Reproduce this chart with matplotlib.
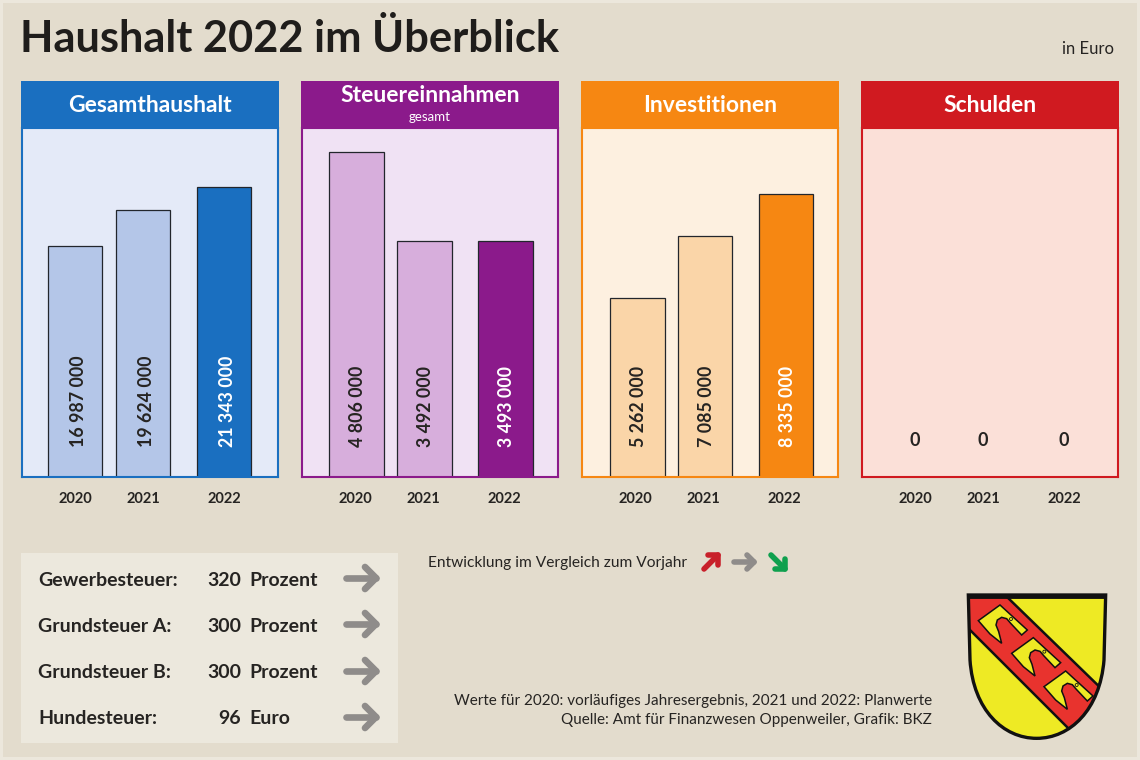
import matplotlib
matplotlib.use('Agg')
import matplotlib.pyplot as plt
from matplotlib.patches import Rectangle, PathPatch, Polygon, Circle
from matplotlib.path import Path

plt.rcParams['font.family'] = ['Lato', 'DejaVu Sans']

years = ['2020', '2021', '2022']
gesamthaushalt = [16987000, 19624000, 21343000]
steuereinnahmen = [4806000, 3492000, 3493000]
investitionen = [5262000, 7085000, 8335000]
schulden = [0, 0, 0]

panel_titles = ['Gesamthaushalt', 'Steuereinnahmen', 'Investitionen', 'Schulden']
tax_names = ['Gewerbesteuer:', 'Grundsteuer A:', 'Grundsteuer B:', 'Hundesteuer:']
tax_values = [320, 300, 300, 96]
tax_units = ['Prozent', 'Prozent', 'Prozent', 'Euro']

W, H = 1140, 760
BG = '#e3dccd'
RIM = '#ece7dc'
TXT = '#262422'
series = [gesamthaushalt, steuereinnahmen, investitionen, schulden]
lefts = [21, 301, 581, 861]
ymax = [25685000, 5161000, 10279000, 1]
main = ['#1a6fc0', '#8b1a8b', '#f68712', '#d01a20']
pale = ['#e4eaf8', '#f0e2f4', '#fdf0e0', '#fbe0d8']
soft = ['#b4c6e8', '#d7aedc', '#fad5a8', '#fad5a8']
xpos = [[54, 122, 203], [55.5, 123.5, 204.5], [56.5, 124, 205], [54.5, 122.5, 203.5]]
tick_pos = [54, 122, 203]
label_shift = [3.5, 1, 1.5, -1]

fig = plt.figure(figsize=(W / 100, H / 100), dpi=100, facecolor=RIM)

# overlay in pixel coordinates
bg = fig.add_axes([0, 0, 1, 1], zorder=0)
bg.set_xlim(0, W)
bg.set_ylim(H, 0)
bg.axis('off')
bg.add_patch(Rectangle((3, 3), W - 6, H - 6, facecolor=BG, edgecolor='none'))

bg.text(20, 38.5, 'Haushalt 2022 im Überblick', fontsize=31.2, fontweight='bold', color='#1f1d1b',
        va='center', ha='left')
bg.text(1114, 49, 'in Euro', fontsize=12, color=TXT, ha='right', va='center')

for i in range(4):
    left = lefts[i]
    ax = fig.add_axes([(left + 1) / W, 1 - 477 / H, 256 / W, 349 / H], zorder=1)
    ax.set_facecolor(pale[i])
    ax.set_xlim(1, 257)
    ax.set_ylim(0, ymax[i])
    colors = [soft[i], soft[i], main[i]]
    ax.bar(xpos[i], series[i], width=54.5, color=colors, edgecolor='#22262c', linewidth=0.9)
    for spine in ax.spines.values():
        spine.set_color(main[i])
        spine.set_linewidth(1.5)
    ax.set_yticks([])
    ax.set_xticks(tick_pos)
    ax.set_xticklabels(years, fontsize=10.5, fontweight='bold', color=TXT)
    ax.tick_params(axis='x', length=0, pad=11)
    for j, v in enumerate(series[i]):
        label = f'{v:,}'.replace(',', ' ')
        if v == 0:
            ax.text(xpos[i][j] + label_shift[i], 37 / 349 * ymax[i], label, fontsize=13, fontweight='bold',
                    color=TXT, ha='center', va='center')
        else:
            ax.text(xpos[i][j] + label_shift[i], 30 / 349 * ymax[i], label, rotation=90, fontsize=12.8,
                    fontweight='bold', color='white' if j == 2 else TXT, ha='center', va='bottom')
    # header strip
    bg.add_patch(Rectangle((left, 81), 258, 47, facecolor=main[i], edgecolor='none'))
    if i == 1:
        bg.text(left + 129, 95.5, panel_titles[i], fontsize=16.5, fontweight='bold', color='white',
                ha='center', va='center')
        bg.text(left + 129, 117, 'gesamt', fontsize=9.5, color='white', ha='center', va='center')
    else:
        bg.text(left + 129, 105, panel_titles[i], fontsize=16.5, fontweight='bold', color='white',
                ha='center', va='center')


def arrow(x0, y0, x1, y1, color, lw, head):
    # shaft and chevron with round ends
    dx, dy = x1 - x0, y1 - y0
    n = (dx ** 2 + dy ** 2) ** 0.5
    ux, uy = dx / n, dy / n
    bg.plot([x0, x1], [y0, y1], color=color, lw=lw, solid_capstyle='round', zorder=3)
    ax_, ay_ = x1 - head * ux - head * uy, y1 - head * uy + head * ux
    bx_, by_ = x1 - head * ux + head * uy, y1 - head * uy - head * ux
    bg.plot([ax_, x1, bx_], [ay_, y1, by_], color=color, lw=lw, solid_capstyle='round',
            solid_joinstyle='round', zorder=3)


# tax box
bg.add_patch(Rectangle((21, 553), 377, 190, facecolor='#ece8dd', edgecolor='none'))
row_y = [579, 625, 672, 718]
for k in range(4):
    bg.text(38, row_y[k] + 1, tax_names[k], fontsize=14, fontweight='bold', color=TXT, va='center')
    bg.text(241, row_y[k] + 1, str(tax_values[k]), fontsize=14, fontweight='bold', color=TXT, va='center', ha='right')
    bg.text(249, row_y[k] + 1, tax_units[k], fontsize=14, fontweight='bold', color=TXT, va='center')
    arrow(346, row_y[k] - 1, 376, row_y[k] - 1, '#8f8c8a', 4.8, 11)

# legend line
bg.text(428, 563, 'Entwicklung im Vergleich zum Vorjahr', fontsize=11.2, color=TXT, va='center')
arrow(704, 569, 718, 555, '#c8202a', 4, 7)
arrow(734, 562, 754, 562, '#8f8c8a', 4, 7)
arrow(771, 555, 785, 569, '#0fa04e', 4, 7)

# source
bg.text(932, 701, 'Werte für 2020: vorläufiges Jahresergebnis, 2021 und 2022: Planwerte',
        fontsize=11, color=TXT, ha='right', va='center')
bg.text(932, 720, 'Quelle: Amt für Finanzwesen Oppenweiler, Grafik: BKZ',
        fontsize=11, color=TXT, ha='right', va='center')


# coat of arms, coordinates measured from the crop (3x, origin 940,570)
def px(x, y):
    return 940 + x / 3, 570 + y / 3


verts = [px(85, 75), px(497, 75), px(492, 270), px(480, 420), px(390, 505), px(290, 505),
         px(190, 505), px(100, 420), px(90, 270), px(85, 75)]
codes = [Path.MOVETO, Path.LINETO, Path.LINETO, Path.CURVE4, Path.CURVE4, Path.CURVE4,
         Path.CURVE4, Path.CURVE4, Path.CURVE4, Path.CLOSEPOLY]
shield = PathPatch(Path(verts, codes), facecolor='#eeea24', edgecolor='none', zorder=2)
bg.add_patch(shield)
band = Polygon([px(80, 75), px(195, 75), px(510, 381), px(400, 490), px(80, 170)],
               facecolor='#e8332e', edgecolor='#111111', lw=1.8, zorder=3)
bg.add_patch(band)
band.set_clip_path(shield)
axe = [(115, 152), (180, 105), (262, 180), (245, 195), (212, 160), (200, 146), (185, 142), (172, 150),
       (168, 165), (176, 185), (185, 220), (150, 192)]
for off in [(0, 0), (100, 98), (197, 198)]:
    bg.add_patch(Polygon([px(x + off[0], y + off[1]) for x, y in axe], facecolor='#eeea24',
                         edgecolor='#111111', lw=1.1, zorder=4))
    bg.add_patch(Circle(px(213 + off[0], 147 + off[1]), 1.5, facecolor='#eeea24',
                        edgecolor='#111111', lw=0.6, zorder=5))
bg.add_patch(PathPatch(Path(verts, codes), facecolor='none', edgecolor='#111111', lw=2.4, zorder=6))
bg.plot([968, 1106], [596, 596], color='#111111', lw=3.5, zorder=6, solid_capstyle='butt')

fig.savefig('out.png', dpi=100, facecolor=RIM)
